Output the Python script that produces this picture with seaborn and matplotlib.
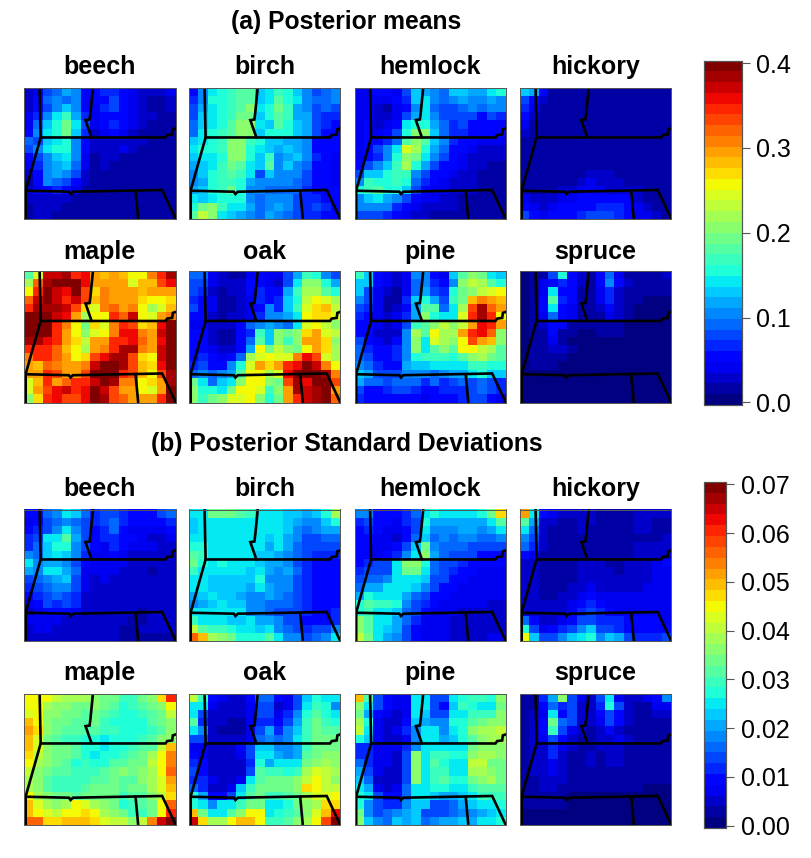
import matplotlib
matplotlib.use("Agg")
import matplotlib.pyplot as plt
import numpy as np
import seaborn as sns

sns.set_theme(style="white")
plt.rcParams["font.family"] = ["Liberation Sans", "DejaVu Sans"]
plt.rcParams["text.color"] = "black"

species = ["beech", "birch", "hemlock", "hickory", "maple", "oak", "pine", "spruce"]

# posterior means, in hundredths
beech_mean = [
    [3, 4, 8, 9, 12, 10, 6, 5, 7, 7, 6, 4, 3, 3, 3, 4],
    [3, 5, 9, 11, 9, 10, 5, 5, 6, 8, 6, 4, 3, 2, 2, 3],
    [3, 6, 8, 11, 13, 11, 6, 4, 7, 8, 5, 4, 3, 2, 2, 3],
    [4, 7, 11, 14, 17, 12, 7, 4, 6, 6, 5, 4, 3, 3, 2, 2],
    [4, 9, 13, 15, 19, 14, 8, 4, 5, 7, 5, 4, 3, 2, 2, 2],
    [5, 10, 14, 15, 19, 13, 7, 3, 4, 5, 4, 3, 2, 1, 1, 1],
    [9, 8, 13, 14, 15, 11, 5, 3, 3, 3, 3, 3, 3, 2, 1, 1],
    [8, 10, 14, 15, 16, 11, 5, 3, 3, 3, 4, 3, 2, 2, 1, 1],
    [5, 8, 11, 13, 14, 10, 4, 2, 3, 3, 2, 2, 2, 1, 1, 1],
    [4, 7, 10, 12, 13, 9, 4, 2, 3, 2, 2, 2, 1, 1, 1, 1],
    [3, 6, 11, 12, 11, 8, 3, 2, 2, 2, 1, 1, 1, 1, 1, 1],
    [2, 5, 10, 9, 8, 6, 3, 2, 2, 2, 1, 1, 1, 1, 1, 1],
    [3, 4, 6, 7, 6, 4, 2, 2, 1, 1, 1, 1, 1, 1, 1, 1],
    [3, 3, 3, 3, 3, 2, 1, 1, 1, 1, 1, 1, 1, 1, 1, 1],
    [2, 3, 3, 3, 2, 2, 1, 1, 1, 1, 1, 1, 1, 1, 1, 1],
    [2, 3, 3, 2, 2, 1, 1, 1, 1, 1, 1, 1, 1, 1, 1, 1],
]
birch_mean = [
    [6, 10, 14, 16, 17, 18, 18, 13, 14, 17, 15, 13, 10, 8, 9, 10],
    [7, 11, 15, 16, 17, 18, 18, 13, 14, 18, 16, 14, 11, 9, 9, 10],
    [8, 12, 14, 16, 17, 18, 20, 14, 15, 19, 17, 12, 11, 8, 9, 8],
    [8, 13, 14, 16, 17, 19, 19, 13, 15, 18, 17, 12, 12, 8, 7, 7],
    [9, 13, 14, 16, 18, 20, 20, 14, 13, 18, 16, 13, 12, 8, 7, 6],
    [9, 14, 15, 17, 18, 20, 20, 13, 15, 16, 15, 13, 12, 8, 6, 6],
    [13, 14, 15, 17, 21, 20, 17, 15, 13, 13, 12, 12, 11, 6, 5, 5],
    [14, 15, 15, 17, 21, 20, 16, 14, 13, 12, 13, 12, 10, 6, 5, 5],
    [13, 14, 14, 16, 21, 20, 15, 13, 17, 11, 12, 13, 10, 7, 5, 4],
    [12, 13, 14, 17, 19, 18, 14, 13, 18, 11, 13, 11, 9, 6, 5, 4],
    [11, 13, 15, 17, 18, 17, 14, 8, 13, 11, 11, 10, 8, 6, 5, 4],
    [10, 12, 15, 17, 17, 16, 12, 10, 10, 10, 10, 9, 8, 6, 5, 4],
    [12, 13, 15, 17, 19, 16, 11, 10, 9, 9, 9, 9, 7, 6, 5, 5],
    [14, 13, 14, 16, 15, 15, 11, 9, 11, 11, 11, 8, 7, 7, 6, 6],
    [16, 19, 20, 17, 14, 14, 12, 9, 11, 12, 10, 8, 7, 8, 7, 6],
    [18, 23, 20, 14, 13, 12, 11, 9, 12, 10, 9, 8, 7, 7, 6, 6],
]
hemlock_mean = [
    [4, 4, 6, 5, 4, 8, 13, 12, 10, 9, 13, 13, 12, 12, 14, 16],
    [4, 4, 4, 4, 5, 7, 13, 14, 10, 9, 10, 12, 11, 10, 12, 11],
    [4, 4, 3, 2, 4, 6, 11, 14, 9, 8, 8, 9, 10, 9, 10, 10],
    [4, 4, 3, 3, 4, 8, 12, 14, 11, 8, 8, 8, 8, 6, 8, 7],
    [4, 5, 3, 4, 6, 14, 15, 15, 12, 9, 7, 8, 6, 5, 6, 5],
    [4, 5, 4, 5, 8, 16, 21, 20, 13, 9, 7, 7, 6, 5, 5, 5],
    [4, 5, 5, 7, 9, 18, 20, 18, 13, 10, 7, 6, 5, 4, 4, 4],
    [4, 5, 8, 10, 14, 24, 22, 16, 12, 9, 6, 5, 4, 3, 3, 3],
    [4, 6, 7, 10, 16, 21, 19, 14, 10, 8, 5, 4, 3, 3, 3, 3],
    [6, 8, 10, 13, 17, 22, 15, 12, 8, 6, 5, 4, 3, 3, 2, 2],
    [8, 13, 13, 15, 17, 17, 11, 8, 6, 5, 4, 3, 3, 2, 2, 2],
    [10, 17, 15, 16, 17, 15, 9, 7, 5, 4, 3, 3, 3, 2, 2, 2],
    [15, 17, 18, 16, 15, 13, 8, 5, 4, 4, 3, 3, 3, 2, 2, 2],
    [11, 13, 14, 12, 10, 8, 5, 4, 4, 3, 3, 2, 2, 2, 2, 2],
    [10, 11, 11, 10, 7, 6, 4, 3, 3, 3, 3, 2, 2, 2, 2, 2],
    [8, 8, 8, 7, 5, 4, 3, 3, 2, 2, 2, 2, 2, 1, 1, 2],
]
hickory_mean = [
    [13, 12, 6, 2, 1, 1, 1, 1, 1, 1, 1, 1, 1, 1, 1, 1],
    [8, 6, 3, 1, 1, 1, 1, 1, 1, 1, 1, 1, 1, 1, 1, 1],
    [7, 4, 2, 1, 1, 1, 1, 1, 1, 1, 1, 1, 1, 1, 1, 2],
    [6, 3, 2, 1, 1, 1, 1, 1, 1, 1, 1, 1, 1, 2, 2, 2],
    [4, 2, 1, 1, 1, 1, 1, 1, 1, 1, 1, 1, 1, 2, 2, 2],
    [3, 2, 1, 1, 1, 1, 1, 1, 1, 1, 1, 1, 1, 1, 2, 2],
    [2, 2, 1, 1, 1, 1, 1, 1, 1, 1, 1, 1, 1, 1, 2, 2],
    [2, 1, 1, 1, 1, 1, 2, 2, 1, 1, 1, 1, 2, 2, 2, 2],
    [2, 1, 1, 1, 1, 1, 2, 1, 2, 2, 1, 2, 2, 2, 2, 2],
    [2, 2, 1, 1, 1, 2, 2, 2, 2, 2, 2, 2, 2, 2, 2, 2],
    [1, 2, 1, 1, 1, 2, 2, 3, 3, 3, 2, 2, 2, 2, 2, 2],
    [1, 1, 1, 2, 2, 2, 3, 4, 3, 3, 3, 2, 2, 2, 2, 2],
    [2, 2, 2, 2, 3, 3, 4, 4, 4, 3, 3, 3, 3, 2, 2, 2],
    [4, 3, 3, 3, 4, 4, 5, 5, 5, 5, 5, 5, 3, 2, 2, 2],
    [5, 4, 3, 4, 5, 5, 6, 6, 7, 7, 7, 6, 4, 3, 2, 2],
    [8, 5, 4, 5, 5, 6, 7, 8, 8, 8, 7, 6, 4, 4, 3, 2],
]
maple_mean = [
    [18, 24, 37, 37, 38, 34, 36, 30, 28, 29, 28, 26, 26, 31, 34, 38],
    [22, 32, 39, 40, 40, 40, 36, 30, 30, 30, 29, 25, 28, 28, 33, 36],
    [26, 34, 40, 37, 36, 40, 33, 27, 31, 30, 30, 29, 28, 29, 29, 30],
    [32, 37, 40, 37, 35, 37, 33, 28, 31, 30, 29, 29, 27, 26, 26, 27],
    [34, 38, 39, 38, 37, 33, 27, 24, 31, 32, 30, 31, 26, 22, 25, 28],
    [40, 40, 40, 37, 36, 30, 22, 26, 26, 34, 32, 37, 26, 24, 30, 31],
    [40, 40, 40, 34, 31, 26, 19, 27, 25, 31, 34, 33, 27, 28, 36, 40],
    [40, 40, 40, 35, 29, 26, 20, 25, 26, 31, 36, 36, 31, 30, 37, 40],
    [38, 39, 36, 34, 30, 27, 23, 30, 30, 34, 34, 36, 32, 30, 36, 40],
    [34, 35, 35, 32, 28, 26, 22, 30, 31, 35, 38, 38, 31, 29, 37, 40],
    [31, 34, 35, 32, 30, 26, 27, 33, 36, 38, 38, 33, 27, 26, 37, 40],
    [30, 28, 32, 31, 29, 29, 31, 37, 40, 40, 38, 33, 28, 27, 36, 40],
    [30, 29, 34, 33, 30, 30, 33, 40, 40, 40, 34, 33, 28, 26, 33, 38],
    [24, 28, 35, 30, 32, 35, 35, 37, 40, 38, 31, 31, 26, 27, 30, 38],
    [24, 30, 33, 36, 37, 34, 36, 40, 37, 33, 30, 30, 26, 24, 30, 40],
    [21, 27, 35, 36, 33, 33, 36, 40, 38, 33, 32, 30, 30, 29, 35, 40],
]
oak_mean = [
    [9, 9, 4, 3, 2, 1, 4, 6, 4, 4, 8, 12, 17, 15, 10, 8],
    [8, 8, 4, 3, 3, 3, 5, 6, 4, 3, 8, 14, 20, 21, 15, 12],
    [8, 7, 3, 2, 3, 3, 5, 7, 5, 5, 12, 17, 22, 22, 18, 16],
    [7, 6, 4, 2, 2, 3, 4, 7, 6, 7, 13, 15, 23, 26, 24, 22],
    [8, 6, 4, 2, 2, 3, 4, 6, 10, 7, 13, 17, 24, 27, 28, 23],
    [5, 5, 3, 2, 3, 3, 4, 7, 10, 10, 12, 14, 26, 27, 27, 24],
    [4, 4, 3, 3, 3, 5, 9, 10, 12, 10, 9, 14, 25, 26, 23, 21],
    [5, 5, 3, 2, 2, 5, 7, 17, 13, 20, 19, 21, 27, 29, 25, 23],
    [6, 5, 3, 2, 2, 5, 9, 18, 13, 20, 17, 21, 30, 30, 27, 20],
    [5, 5, 4, 3, 3, 6, 12, 26, 19, 23, 21, 19, 26, 29, 27, 22],
    [5, 7, 5, 4, 5, 9, 22, 25, 26, 25, 25, 31, 36, 33, 25, 22],
    [7, 8, 6, 6, 10, 15, 24, 29, 27, 29, 34, 36, 40, 37, 31, 26],
    [9, 11, 9, 10, 12, 18, 26, 26, 22, 25, 36, 40, 40, 40, 38, 31],
    [19, 14, 9, 13, 14, 20, 26, 26, 20, 19, 33, 38, 36, 40, 40, 33],
    [20, 15, 16, 14, 19, 26, 26, 24, 17, 21, 30, 38, 37, 39, 40, 30],
    [21, 17, 19, 20, 25, 24, 26, 20, 15, 19, 30, 35, 37, 38, 40, 32],
]
pine_mean = [
    [17, 13, 6, 4, 3, 4, 10, 11, 6, 4, 13, 18, 21, 19, 14, 13],
    [13, 13, 6, 4, 3, 4, 9, 11, 7, 5, 11, 20, 23, 22, 18, 15],
    [13, 8, 4, 3, 2, 4, 9, 12, 8, 7, 16, 19, 21, 23, 25, 26],
    [10, 8, 4, 2, 2, 7, 13, 15, 12, 8, 17, 19, 28, 31, 29, 28],
    [8, 7, 4, 2, 3, 6, 12, 18, 18, 9, 14, 22, 33, 38, 32, 29],
    [7, 6, 4, 3, 4, 7, 12, 20, 15, 14, 14, 25, 35, 39, 34, 26],
    [5, 5, 4, 3, 4, 8, 17, 18, 20, 23, 21, 23, 30, 36, 34, 29],
    [6, 5, 3, 3, 3, 10, 22, 18, 26, 22, 22, 29, 35, 36, 32, 21],
    [8, 5, 4, 3, 5, 10, 20, 14, 25, 22, 20, 26, 33, 30, 28, 20],
    [9, 7, 5, 5, 7, 10, 21, 14, 18, 20, 18, 26, 26, 23, 22, 18],
    [9, 8, 5, 5, 7, 10, 16, 17, 17, 17, 16, 18, 21, 22, 19, 18],
    [11, 9, 7, 6, 6, 12, 13, 13, 14, 14, 14, 14, 17, 17, 16, 15],
    [13, 12, 8, 8, 8, 10, 11, 10, 9, 10, 12, 12, 14, 15, 13, 13],
    [12, 9, 9, 8, 9, 9, 9, 7, 9, 7, 8, 9, 8, 9, 8, 7],
    [8, 6, 6, 7, 8, 8, 7, 6, 6, 7, 7, 7, 8, 9, 8, 7],
    [7, 5, 5, 5, 6, 6, 5, 4, 5, 6, 5, 7, 8, 8, 6, 4],
]
spruce_mean = [
    [0, 1, 2, 8, 15, 5, 3, 2, 5, 9, 4, 2, 2, 2, 2, 3],
    [0, 1, 4, 5, 7, 6, 3, 2, 5, 11, 6, 3, 2, 2, 2, 2],
    [0, 2, 4, 14, 5, 5, 2, 1, 4, 7, 3, 1, 1, 1, 1, 1],
    [0, 1, 5, 18, 7, 6, 2, 2, 4, 7, 3, 2, 1, 0, 0, 0],
    [0, 1, 5, 14, 6, 4, 2, 1, 3, 6, 3, 2, 0, 0, 0, 0],
    [0, 1, 4, 9, 6, 4, 2, 1, 2, 4, 3, 2, 0, 0, 0, 0],
    [0, 1, 3, 5, 5, 2, 1, 1, 1, 2, 2, 0, 0, 0, 0, 0],
    [0, 1, 2, 5, 2, 1, 0, 0, 1, 2, 2, 0, 0, 0, 0, 0],
    [0, 1, 2, 4, 2, 0, 0, 0, 0, 0, 0, 0, 0, 0, 0, 0],
    [0, 1, 2, 3, 3, 2, 0, 0, 0, 0, 0, 0, 0, 0, 0, 0],
    [0, 1, 2, 2, 2, 0, 0, 0, 0, 0, 0, 0, 0, 0, 0, 0],
    [0, 1, 2, 2, 0, 0, 0, 0, 0, 0, 0, 0, 0, 0, 0, 0],
    [0, 0, 0, 0, 0, 0, 0, 0, 0, 0, 0, 0, 0, 0, 0, 0],
    [0, 0, 0, 0, 0, 0, 0, 0, 0, 0, 0, 0, 0, 0, 0, 0],
    [0, 0, 0, 0, 0, 0, 0, 0, 0, 0, 0, 0, 0, 0, 0, 0],
    [0, 0, 0, 0, 0, 0, 0, 0, 0, 0, 0, 0, 0, 0, 0, 0],
]

# posterior standard deviations, in thousandths
beech_sd = [
    [10, 10, 16, 19, 24, 23, 17, 11, 15, 15, 12, 10, 10, 10, 13, 16],
    [8, 9, 14, 16, 18, 17, 15, 11, 13, 17, 12, 10, 9, 9, 10, 12],
    [10, 11, 15, 18, 25, 18, 14, 10, 12, 16, 10, 8, 8, 7, 8, 10],
    [11, 15, 25, 26, 32, 20, 13, 10, 11, 12, 9, 9, 8, 6, 6, 8],
    [12, 16, 22, 27, 28, 18, 15, 10, 8, 12, 9, 8, 8, 7, 6, 5],
    [18, 17, 23, 24, 23, 18, 12, 7, 8, 10, 8, 6, 6, 5, 5, 5],
    [25, 19, 20, 20, 19, 14, 9, 7, 7, 8, 7, 6, 5, 5, 5, 5],
    [21, 18, 24, 24, 20, 16, 8, 7, 7, 7, 6, 6, 5, 3, 5, 5],
    [15, 16, 19, 20, 23, 15, 8, 6, 7, 6, 5, 5, 5, 4, 4, 4],
    [12, 14, 17, 19, 18, 14, 7, 6, 6, 5, 5, 5, 4, 4, 4, 4],
    [10, 12, 15, 17, 15, 12, 6, 5, 5, 5, 4, 4, 4, 4, 4, 4],
    [8, 10, 13, 12, 14, 11, 5, 4, 4, 4, 4, 4, 4, 4, 4, 5],
    [6, 8, 9, 10, 9, 7, 4, 4, 4, 4, 4, 4, 3, 4, 4, 4],
    [7, 7, 8, 7, 6, 5, 4, 4, 4, 4, 4, 3, 3, 4, 4, 4],
    [6, 7, 7, 6, 6, 4, 4, 4, 4, 4, 3, 3, 4, 4, 4, 4],
    [6, 6, 5, 5, 5, 4, 4, 4, 5, 4, 3, 3, 3, 3, 3, 3],
]
birch_sd = [
    [25, 24, 33, 33, 33, 31, 30, 25, 25, 25, 23, 22, 20, 23, 27, 39],
    [22, 24, 25, 25, 25, 25, 24, 25, 25, 25, 23, 21, 18, 19, 22, 27],
    [23, 24, 25, 25, 25, 25, 25, 25, 25, 25, 22, 19, 17, 18, 20, 20],
    [25, 24, 25, 25, 25, 25, 25, 24, 22, 25, 21, 18, 15, 15, 17, 16],
    [27, 28, 25, 25, 25, 25, 25, 24, 20, 25, 20, 17, 14, 13, 14, 14],
    [32, 30, 26, 25, 25, 25, 25, 23, 22, 21, 19, 16, 13, 11, 11, 11],
    [34, 27, 25, 27, 26, 25, 24, 22, 20, 20, 18, 15, 11, 10, 10, 10],
    [30, 25, 24, 24, 25, 24, 23, 25, 20, 18, 21, 16, 12, 9, 9, 9],
    [26, 25, 23, 23, 23, 23, 22, 28, 19, 18, 19, 15, 12, 9, 9, 9],
    [24, 24, 22, 22, 22, 22, 21, 24, 21, 18, 18, 14, 12, 10, 10, 9],
    [21, 23, 25, 22, 22, 20, 18, 19, 21, 18, 17, 14, 11, 10, 9, 9],
    [19, 20, 23, 24, 23, 23, 18, 18, 16, 16, 16, 14, 11, 10, 9, 10],
    [24, 26, 26, 24, 25, 25, 18, 18, 17, 15, 15, 13, 11, 10, 10, 11],
    [30, 26, 24, 24, 23, 23, 24, 20, 20, 18, 15, 13, 10, 10, 10, 12],
    [40, 31, 30, 29, 28, 26, 24, 23, 25, 18, 16, 14, 12, 13, 14, 18],
    [56, 50, 39, 37, 33, 28, 28, 28, 32, 24, 19, 18, 15, 17, 19, 25],
]
hemlock_sd = [
    [18, 18, 10, 9, 9, 12, 16, 25, 28, 25, 25, 25, 25, 27, 33, 47],
    [12, 14, 9, 9, 8, 11, 14, 27, 21, 20, 20, 21, 21, 21, 25, 32],
    [10, 11, 9, 7, 7, 9, 14, 25, 19, 18, 18, 21, 20, 19, 20, 24],
    [10, 10, 8, 7, 6, 9, 17, 23, 17, 18, 17, 18, 18, 16, 16, 19],
    [9, 10, 7, 8, 9, 15, 22, 33, 18, 17, 16, 17, 15, 13, 14, 13],
    [9, 10, 8, 9, 12, 18, 25, 36, 21, 16, 14, 14, 13, 10, 10, 10],
    [9, 12, 13, 13, 25, 35, 37, 27, 17, 15, 13, 11, 10, 10, 9, 9],
    [11, 13, 13, 14, 26, 33, 34, 25, 16, 14, 12, 10, 9, 8, 8, 8],
    [13, 16, 17, 18, 25, 25, 25, 23, 15, 13, 10, 9, 8, 8, 8, 8],
    [16, 20, 21, 25, 25, 25, 23, 18, 13, 10, 9, 8, 8, 7, 7, 7],
    [21, 28, 26, 25, 24, 21, 17, 13, 10, 9, 8, 8, 7, 7, 7, 7],
    [27, 31, 29, 30, 28, 18, 13, 11, 9, 8, 7, 7, 7, 7, 6, 6],
    [28, 30, 26, 26, 23, 16, 13, 9, 8, 7, 7, 6, 6, 6, 6, 6],
    [36, 31, 25, 24, 21, 16, 11, 8, 8, 7, 6, 6, 5, 5, 6, 6],
    [37, 32, 24, 22, 20, 14, 10, 8, 7, 7, 6, 6, 5, 5, 6, 6],
    [40, 33, 24, 21, 18, 13, 9, 8, 7, 7, 6, 6, 6, 6, 7, 8],
]
hickory_sd = [
    [52, 25, 9, 7, 4, 4, 6, 6, 3, 3, 3, 3, 4, 4, 4, 4],
    [32, 20, 6, 4, 3, 3, 5, 4, 3, 3, 3, 3, 4, 4, 3, 3],
    [25, 17, 5, 3, 2, 2, 4, 3, 3, 2, 2, 3, 4, 4, 3, 3],
    [18, 13, 4, 3, 2, 2, 3, 3, 2, 2, 2, 3, 3, 3, 3, 5],
    [17, 12, 4, 2, 2, 3, 3, 3, 2, 2, 2, 3, 4, 4, 5, 5],
    [9, 8, 3, 2, 2, 3, 3, 3, 3, 3, 3, 3, 4, 4, 5, 6],
    [5, 6, 3, 2, 2, 3, 4, 5, 4, 3, 3, 4, 5, 6, 7, 9],
    [4, 5, 2, 2, 2, 3, 4, 6, 4, 4, 3, 4, 5, 6, 7, 8],
    [5, 4, 2, 2, 3, 3, 5, 6, 4, 5, 5, 5, 6, 6, 8, 8],
    [5, 4, 3, 3, 3, 4, 6, 7, 6, 6, 6, 6, 6, 7, 8, 8],
    [6, 5, 3, 3, 4, 5, 7, 9, 7, 7, 7, 7, 8, 8, 8, 8],
    [6, 5, 4, 4, 5, 7, 9, 12, 9, 8, 8, 8, 7, 8, 8, 8],
    [6, 6, 5, 5, 6, 8, 12, 14, 12, 10, 8, 8, 8, 8, 8, 8],
    [16, 9, 5, 5, 7, 10, 13, 15, 12, 11, 11, 10, 9, 9, 9, 8],
    [28, 13, 8, 9, 12, 15, 19, 22, 15, 13, 11, 10, 10, 9, 9, 9],
    [45, 22, 14, 13, 18, 22, 25, 27, 18, 22, 21, 14, 11, 11, 12, 15],
]
maple_sd = [
    [45, 44, 46, 40, 39, 38, 38, 35, 34, 33, 30, 30, 34, 36, 48, 60],
    [45, 44, 38, 36, 35, 33, 33, 35, 33, 31, 28, 29, 31, 34, 37, 45],
    [43, 45, 37, 35, 33, 33, 32, 34, 31, 30, 28, 28, 29, 31, 34, 40],
    [50, 46, 37, 34, 33, 32, 31, 33, 30, 28, 28, 27, 27, 31, 33, 36],
    [52, 48, 36, 33, 32, 31, 31, 32, 29, 30, 28, 27, 27, 29, 32, 36],
    [50, 42, 34, 31, 30, 29, 28, 27, 26, 27, 27, 28, 29, 31, 35, 36],
    [50, 42, 35, 34, 33, 31, 28, 27, 26, 27, 27, 29, 31, 32, 40, 50],
    [48, 40, 36, 33, 33, 31, 28, 26, 27, 27, 29, 31, 33, 38, 45, 54],
    [44, 38, 35, 33, 32, 28, 29, 28, 28, 31, 31, 33, 34, 40, 44, 54],
    [40, 37, 33, 32, 31, 29, 29, 29, 32, 34, 36, 34, 35, 38, 46, 55],
    [38, 35, 31, 30, 30, 29, 29, 31, 32, 33, 32, 32, 35, 39, 42, 52],
    [38, 36, 32, 29, 29, 29, 31, 33, 33, 33, 32, 33, 34, 38, 42, 50],
    [44, 38, 36, 34, 33, 32, 34, 34, 33, 33, 30, 32, 32, 36, 41, 48],
    [50, 42, 39, 37, 38, 44, 42, 39, 36, 33, 28, 30, 31, 34, 44, 55],
    [50, 46, 42, 40, 44, 45, 47, 44, 38, 37, 33, 30, 30, 33, 46, 60],
    [57, 55, 48, 48, 50, 50, 50, 47, 42, 40, 40, 37, 40, 53, 65, 70],
]
oak_sd = [
    [40, 30, 10, 8, 6, 5, 9, 17, 16, 9, 8, 14, 22, 28, 24, 26],
    [26, 24, 7, 6, 5, 5, 8, 15, 13, 6, 7, 14, 24, 30, 27, 18],
    [24, 14, 6, 4, 4, 5, 8, 15, 13, 8, 11, 19, 27, 31, 28, 24],
    [32, 12, 6, 4, 2, 3, 7, 12, 11, 10, 13, 20, 29, 33, 30, 28],
    [25, 18, 6, 3, 2, 3, 7, 15, 20, 12, 19, 22, 30, 34, 32, 31],
    [15, 14, 6, 5, 4, 5, 8, 16, 19, 17, 19, 24, 30, 33, 33, 33],
    [8, 8, 5, 5, 6, 9, 15, 23, 22, 19, 18, 20, 30, 33, 34, 34],
    [9, 8, 5, 5, 5, 8, 14, 25, 24, 20, 18, 21, 31, 34, 35, 36],
    [12, 9, 6, 5, 4, 6, 12, 28, 20, 26, 24, 24, 34, 37, 38, 36],
    [14, 9, 6, 5, 4, 6, 13, 32, 30, 30, 27, 30, 38, 42, 40, 38],
    [12, 11, 7, 6, 5, 8, 25, 31, 34, 34, 33, 36, 40, 45, 40, 37],
    [17, 12, 6, 5, 7, 22, 30, 33, 34, 33, 34, 36, 47, 46, 40, 40],
    [27, 20, 10, 9, 13, 24, 32, 33, 30, 30, 32, 33, 38, 42, 42, 45],
    [28, 24, 18, 25, 24, 30, 33, 34, 25, 26, 28, 33, 37, 38, 47, 48],
    [50, 34, 25, 24, 32, 36, 44, 46, 25, 28, 30, 32, 36, 42, 50, 62],
    [65, 47, 38, 38, 46, 50, 49, 44, 30, 30, 32, 36, 38, 46, 58, 70],
]
pine_sd = [
    [50, 31, 13, 9, 7, 8, 25, 25, 15, 13, 24, 27, 30, 30, 28, 35],
    [37, 24, 13, 9, 8, 8, 25, 25, 14, 10, 22, 30, 27, 26, 24, 33],
    [34, 20, 9, 7, 6, 8, 25, 23, 13, 13, 25, 26, 29, 29, 30, 36],
    [38, 27, 8, 5, 5, 10, 22, 20, 18, 18, 27, 27, 32, 33, 35, 37],
    [40, 25, 8, 6, 7, 11, 18, 24, 26, 19, 26, 27, 37, 38, 39, 40],
    [27, 23, 8, 6, 6, 8, 18, 25, 25, 20, 22, 27, 32, 36, 38, 39],
    [12, 11, 8, 8, 7, 12, 19, 26, 26, 24, 25, 25, 34, 37, 37, 36],
    [12, 11, 8, 8, 5, 15, 37, 26, 30, 29, 27, 27, 36, 39, 39, 35],
    [16, 11, 7, 8, 5, 14, 35, 24, 31, 27, 25, 26, 40, 40, 34, 33],
    [20, 14, 8, 6, 6, 14, 36, 25, 30, 30, 26, 26, 38, 38, 35, 33],
    [23, 17, 6, 4, 6, 13, 35, 25, 30, 32, 28, 28, 34, 37, 39, 33],
    [25, 20, 8, 6, 8, 17, 25, 25, 27, 27, 26, 26, 30, 31, 31, 32],
    [28, 24, 13, 9, 10, 16, 25, 25, 22, 20, 20, 23, 26, 29, 30, 30],
    [28, 19, 14, 11, 12, 19, 23, 22, 15, 15, 17, 20, 22, 24, 26, 28],
    [33, 18, 15, 17, 18, 20, 22, 14, 13, 15, 17, 19, 19, 20, 22, 25],
    [36, 22, 18, 16, 22, 20, 22, 16, 18, 21, 21, 22, 20, 25, 26, 28],
]
spruce_sd = [
    [3, 3, 12, 21, 35, 14, 7, 5, 14, 25, 8, 6, 4, 7, 10, 18],
    [3, 3, 10, 16, 11, 14, 5, 5, 12, 28, 13, 6, 3, 3, 7, 7],
    [3, 4, 8, 26, 10, 13, 4, 4, 9, 13, 9, 5, 3, 3, 4, 4],
    [3, 4, 9, 33, 17, 14, 5, 4, 8, 15, 10, 5, 3, 3, 3, 3],
    [3, 4, 9, 29, 14, 8, 4, 3, 6, 9, 6, 3, 3, 3, 3, 3],
    [2, 4, 8, 15, 9, 4, 3, 3, 5, 6, 7, 4, 3, 2, 2, 2],
    [3, 4, 5, 11, 7, 4, 3, 3, 4, 4, 4, 3, 2, 2, 2, 2],
    [3, 6, 6, 11, 5, 3, 2, 4, 3, 5, 5, 3, 2, 2, 2, 2],
    [3, 5, 5, 8, 4, 3, 3, 4, 3, 4, 4, 3, 2, 2, 2, 2],
    [2, 4, 6, 8, 4, 2, 2, 2, 3, 3, 3, 2, 2, 2, 2, 2],
    [2, 3, 6, 6, 4, 2, 2, 2, 2, 3, 3, 2, 2, 2, 2, 2],
    [2, 3, 4, 5, 3, 2, 2, 2, 2, 2, 2, 2, 2, 1, 1, 1],
    [2, 2, 3, 3, 2, 1, 1, 1, 1, 1, 1, 1, 1, 1, 1, 1],
    [2, 2, 3, 2, 2, 1, 1, 1, 1, 1, 1, 1, 1, 1, 1, 1],
    [1, 1, 1, 1, 1, 1, 1, 1, 1, 1, 1, 1, 1, 1, 1, 1],
    [1, 1, 1, 1, 1, 1, 1, 1, 1, 1, 1, 1, 1, 1, 1, 1],
]

means = [beech_mean, birch_mean, hemlock_mean, hickory_mean, maple_mean, oak_mean, pine_mean, spruce_mean]
sds = [beech_sd, birch_sd, hemlock_sd, hickory_sd, maple_sd, oak_sd, pine_sd, spruce_sd]

mean_ticks = [0.0, 0.1, 0.2, 0.3, 0.4]
mean_tick_labels = ["0.0", "0.1", "0.2", "0.3", "0.4"]
sd_ticks = [0.0, 0.01, 0.02, 0.03, 0.04, 0.05, 0.06, 0.07]
sd_tick_labels = ["0.00", "0.01", "0.02", "0.03", "0.04", "0.05", "0.06", "0.07"]

# state boundaries in grid cells, measured from the top left of a panel
boundaries = [
    [(1.65, 0), (1.76, 6.08), (0.18, 12.5), (0.18, 16)],
    [(1.76, 6.08), (14.94, 6.08), (15.12, 5.79), (15.65, 5.71), (15.72, 5.1), (16, 4.98)],
    [(7.28, 0), (7.03, 2.96), (6.93, 3.89), (6.5, 3.97), (7.14, 6.08)],
    [(0.18, 12.56), (4.75, 12.68), (4.92, 12.96), (5.17, 12.68), (14.59, 12.47), (16, 15.92)],
    [(11.78, 12.56), (12.06, 16)],
]

W, H = 811, 858
col_x = [(24, 175.5), (189, 340), (354.5, 505.5), (520, 671)]
row_y_top = [(87.5, 219), (271, 402.5)]
row_y_bottom = [(509.5, 641), (693.5, 825)]
title_y_top = [74, 259]
title_y_bottom = [496, 680]

cmap = plt.get_cmap("jet", 32)
LINE_GREY = "#555555"


def add_axes(fig, x0, x1, y0, y1):
    return fig.add_axes([x0 / W, 1 - y1 / H, (x1 - x0) / W, (y1 - y0) / H])


def draw_block(fig, grids, scale, rows, title_ys, vmin, vmax, cbar_box, ticks, tick_labels):
    cax = add_axes(fig, *cbar_box)
    for i, name in enumerate(species):
        r, c = divmod(i, 4)
        ax = add_axes(fig, col_x[c][0], col_x[c][1], rows[r][0], rows[r][1])
        sns.heatmap(np.array(grids[i]) / scale, ax=ax, cmap=cmap, vmin=vmin, vmax=vmax,
                    xticklabels=False, yticklabels=False, square=False,
                    cbar=(i == 0), cbar_ax=cax if i == 0 else None)
        for line in boundaries:
            xs, ys = zip(*line)
            ax.plot(xs, ys, color="black", lw=1.9, solid_joinstyle="miter", clip_on=True)
        for spine in ax.spines.values():
            spine.set_visible(True)
            spine.set_color(LINE_GREY)
            spine.set_linewidth(0.7)
        fig.text(sum(col_x[c]) / 2 / W, 1 - title_ys[r] / H, name, ha="center", va="baseline",
                 fontsize=18, fontweight="bold", color="black")
    cax.yaxis.set_ticks_position("right")
    cax.set_yticks(ticks)
    cax.set_yticklabels(tick_labels)
    cax.tick_params(axis="y", length=5.4, width=0.8, color=LINE_GREY, labelsize=18, pad=5,
                    labelcolor="black", right=True, left=False)
    for spine in cax.spines.values():
        spine.set_visible(True)
        spine.set_color(LINE_GREY)
        spine.set_linewidth(0.8)


fig = plt.figure(figsize=(W / 100, H / 100), dpi=100)

draw_block(fig, means, 100, row_y_top, title_y_top, -0.003, 0.403,
           (704, 742, 60.5, 405), mean_ticks, mean_tick_labels)
draw_block(fig, sds, 1000, row_y_bottom, title_y_bottom, -0.0005, 0.0705,
           (704, 726.5, 482, 828), sd_ticks, sd_tick_labels)

fig.text(346.5 / W, 1 - 29 / H, "(a) Posterior means", ha="center", va="baseline",
         fontsize=17.7, fontweight="bold", color="black")
fig.text(347 / W, 1 - 451 / H, "(b) Posterior Standard Deviations", ha="center", va="baseline",
         fontsize=17.7, fontweight="bold", color="black")

fig.savefig("out.png", dpi=100)
